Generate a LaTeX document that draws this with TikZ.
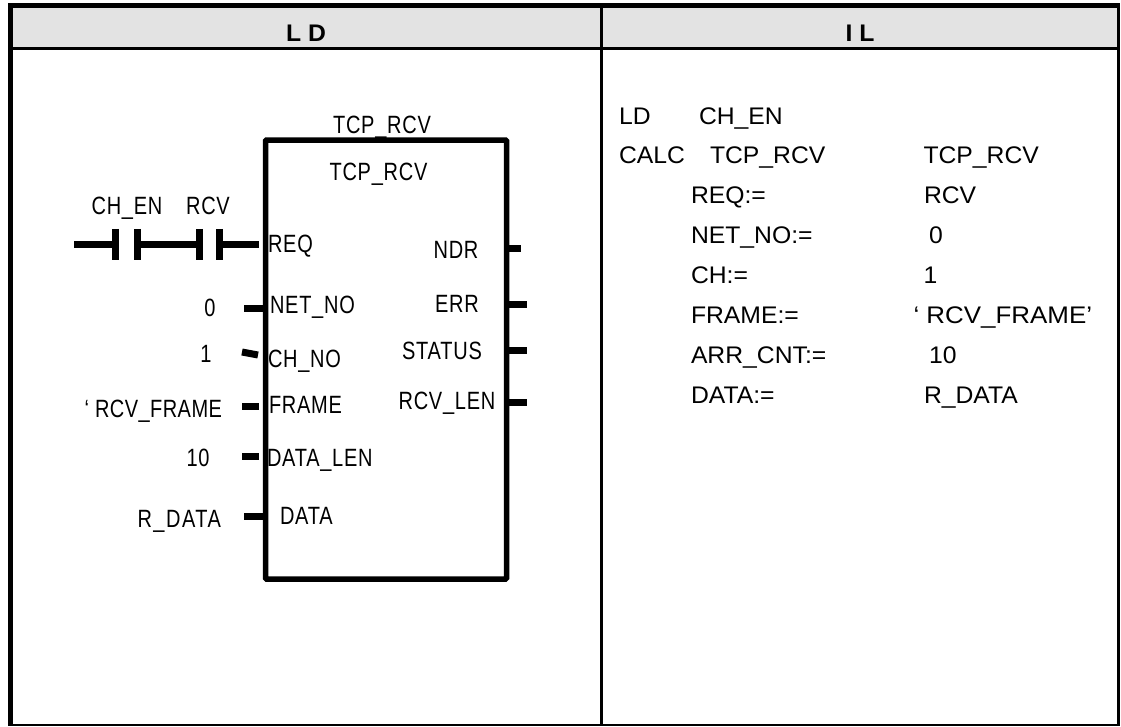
\documentclass[tikz,border=0pt]{standalone}
\usepackage{fontspec}
\setmainfont{Liberation Sans}
\newfontfamily\narrowf[FakeStretch=0.8,LetterSpace=3]{Liberation Sans}
\newfontfamily\narrowtight[FakeStretch=0.8,LetterSpace=1.8]{Liberation Sans}
\newfontfamily\narrowloose[FakeStretch=0.8,LetterSpace=6]{Liberation Sans}
\newfontfamily\widef[FakeStretch=1.03]{Liberation Sans}
\newfontfamily\widerf[FakeStretch=1.08]{Liberation Sans}
\tikzset{
  x=1pt,y=-1pt,
  ltxt/.style={inner sep=0pt,outer sep=0pt,font=\narrowf\fontsize{25}{25}\selectfont},
  rtxt/.style={inner sep=0pt,outer sep=0pt,anchor=base west,font=\widef\fontsize{24}{24}\selectfont},
  hdr/.style={inner sep=0pt,outer sep=0pt,anchor=base,font=\widef\bfseries\fontsize{24}{24}\selectfont},
  gridline/.style={draw=black,line width=2.8pt},
  wire/.style={draw=black,line width=7pt},
  bar/.style={draw=black,line width=7pt},
  fblock/.style={draw=black,line width=5.5pt,fill=white,rounded corners=1pt,minimum width=241pt,minimum height=439pt,inner sep=0pt,outer sep=0pt}
}
\begin{document}
\begin{tikzpicture}
\useasboundingbox (0,0) rectangle (1121,726);
\fill[white] (0,0) rectangle (1121,726);
% table
\fill[black!11] (10,6) rectangle (1118,48.7);
\fill[black] (8,3.3) rectangle (1120,8);
\fill[black] (8,3.3) rectangle (13,726);
\fill[black] (1117,3.3) rectangle (1120,726);
\fill[black] (8,723.5) rectangle (1120,726);
\draw[gridline] (10,48.7) -- (1118.5,48.7);
\draw[gridline] (601.3,5.7) -- (601.3,725);
\node[hdr] (hl) at (306,41) {L D};
\node[hdr] (hr) at (860,41) {I L};
% block
\node[fblock] (block) at (386,359.5) {};
% contacts
\coordinate (c0) at (74,244.3);
\coordinate (c1) at (115.5,244.3);
\coordinate (c2) at (137.5,244.3);
\coordinate (c3) at (199.5,244.3);
\coordinate (c4) at (219.5,244.3);
\coordinate (c5) at (259,244.3);
\draw[wire] (c0) -- (c1);
\draw[wire] (c2) -- (c3);
\draw[wire] (c4) -- (c5);
\foreach \c in {c1,c2,c3,c4}{
  \draw[bar] ([yshift=15.5pt]\c) -- ([yshift=-15.5pt]\c);
}
% right stubs
\coordinate (ndr) at (507,248);
\coordinate (ndre) at (521,248);
\coordinate (err) at (507,304);
\coordinate (erre) at (527,304);
\coordinate (sta) at (507,350);
\coordinate (stae) at (527,350);
\coordinate (len) at (507,402);
\coordinate (lene) at (527,402);
\draw[wire] (ndr) -- (ndre);
\draw[wire] (err) -- (erre);
\draw[wire] (sta) -- (stae);
\draw[wire] (len) -- (lene);
% left stubs
\coordinate (a1) at (244,308);
\coordinate (a1e) at (263,308);
\coordinate (a2) at (242,352);
\coordinate (a2e) at (258,355);
\coordinate (a3) at (242,406);
\coordinate (a3e) at (259,406);
\coordinate (a4) at (242,456);
\coordinate (a4e) at (259,456);
\coordinate (a5) at (244,516);
\coordinate (a5e) at (263,516);
\draw[wire] (a1) -- (a1e);
\draw[wire] (a2) -- (a2e);
\draw[wire] (a3) -- (a3e);
\draw[wire] (a4) -- (a4e);
\draw[wire] (a5) -- (a5e);
% LD text
\node[ltxt,anchor=base] (t1) at (382,133) {TCP\_RCV};
\node[ltxt,anchor=base] (t2) at (378.5,180) {TCP\_RCV};
\node[ltxt,anchor=base] (t3) at (127,214) {CH\_EN};
\node[ltxt,anchor=base] (t4) at (208,214) {RCV};
\node[ltxt,anchor=base west] (p1) at (268,252) {REQ};
\node[ltxt,anchor=base west] (p2) at (270,313) {NET\_NO};
\node[ltxt,anchor=base west] (p3) at (268,367) {CH\_NO};
\node[ltxt,anchor=base west] (p4) at (269,413) {FRAME};
\node[ltxt,anchor=base west] (p5) at (267,466) {DATA\_LEN};
\node[ltxt,anchor=base west] (p6) at (280,524) {DATA};
\node[ltxt,anchor=base] (o1) at (456,258) {NDR};
\node[ltxt,anchor=base] (o2) at (457,312) {ERR};
\node[ltxt,anchor=base] (o3) at (442,359) {STATUS};
\node[ltxt,anchor=base] (o4) at (447,409) {RCV\_LEN};
\node[ltxt,anchor=base] (v1) at (210,316) {0};
\node[ltxt,anchor=base] (v2) at (206,362) {1};
\node[ltxt,anchor=base east,font=\narrowtight\fontsize{25}{25}\selectfont] (v3) at (222,417) {‘ RCV\_FRAME};
\node[ltxt,anchor=base] (v4) at (198,466) {10};
\node[ltxt,anchor=base east,font=\narrowloose\fontsize{25}{25}\selectfont] (v5) at (221,527) {R\_DATA};
% IL text
\node[rtxt] (r1) at (619,124) {LD};
\node[rtxt] (r2) at (699,124) {CH\_EN};
\node[rtxt] (r3) at (619,163) {CALC};
\node[rtxt] (r4) at (710,163) {TCP\_RCV};
\node[rtxt] (r5) at (923.5,163) {TCP\_RCV};
\node[rtxt] (r6) at (691,203) {REQ:=};
\node[rtxt] (r7) at (924,203) {RCV};
\node[rtxt] (r8) at (691,243) {NET\_NO:=};
\node[rtxt] (r9) at (929,243) {0};
\node[rtxt] (r10) at (691,283) {CH:=};
\node[rtxt] (r11) at (923.5,283) {1};
\node[rtxt] (r12) at (691,323) {FRAME:=};
\node[rtxt,font=\widerf\fontsize{24}{24}\selectfont] (r13) at (913.5,323) {‘ RCV\_FRAME’};
\node[rtxt] (r14) at (691,363) {ARR\_CNT:=};
\node[rtxt] (r15) at (929,363) {10};
\node[rtxt] (r16) at (691,403) {DATA:=};
\node[rtxt] (r17) at (924,403) {R\_DATA};
\end{tikzpicture}
\end{document}
